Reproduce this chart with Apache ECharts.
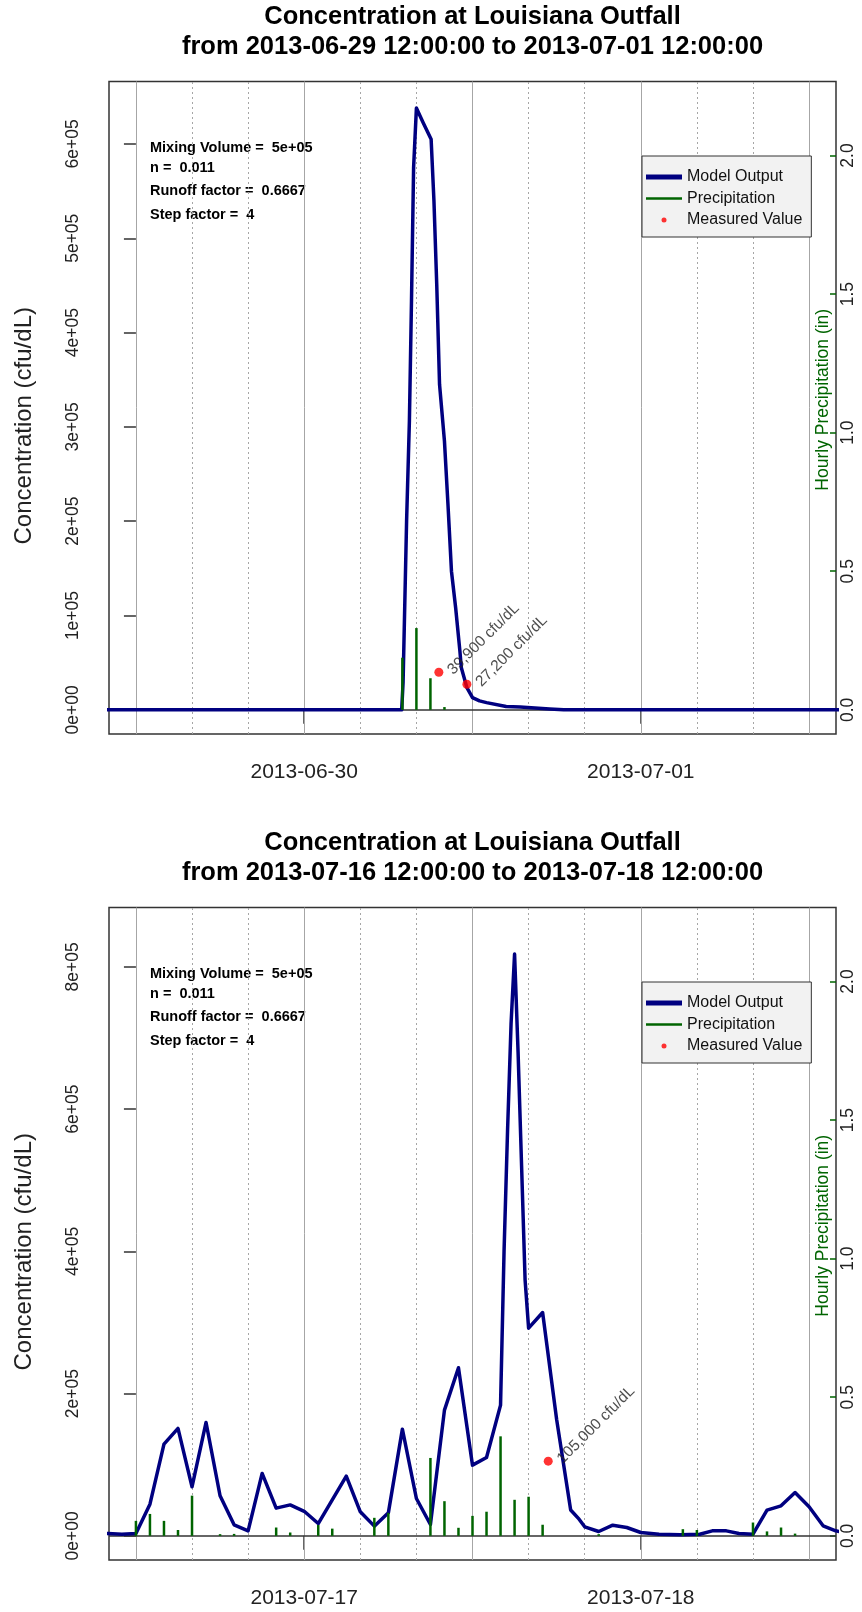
<!DOCTYPE html>
<html lang="en">
<head>
<meta charset="UTF-8">
<title>Concentration at Louisiana Outfall</title>
<style>
  html, body { margin: 0; padding: 0; background: #fff; }
  #main { width: 862px; height: 1612px; }
</style>
</head>
<body>
<div id="main"></div>
<script src="https://cdn.jsdelivr.net/npm/echarts@6/dist/echarts.min.js"></script>
<script>
// hours are counted from 12:00 on the first day of each window

// --- panel 1: 2013-06-29 12:00 to 2013-07-01 12:00
var modelHours1 = [-3, 18.95, 19.05, 19.3, 19.5, 19.65, 19.8, 20.0, 20.5, 21.05, 21.25, 21.45, 21.65, 22.0, 22.25, 22.5, 22.8, 23.1, 23.2, 23.6, 24.0, 24.5, 25.0, 26.4, 27.4, 29.5, 30.5, 53];
var modelConc1  = [0, 0, 29000, 200000, 306000, 434000, 575000, 638000, 622000, 605000, 540000, 451000, 345000, 285000, 218000, 147000, 108000, 62600, 45000, 23600, 13000, 9500, 7700, 3500, 3000, 1000, 0, 0];
var rainHours1  = [19, 20, 21, 22];
var rainInches1 = [0.188, 0.295, 0.114, 0.01];
var measHours1  = [21.6, 23.6];
var measConc1   = [39900, 27200];
var measText1   = ['39,900 cfu/dL', '27,200 cfu/dL'];
var dayLabels1  = ['2013-06-30', '2013-07-01'];
var concTicks1  = [0, 100000, 200000, 300000, 400000, 500000, 600000];

// --- panel 2: 2013-07-16 12:00 to 2013-07-18 12:00
var modelHours2 = [-2.5, -2, -1, 0, 1, 2, 3, 4, 5, 6, 7, 8, 9, 10, 11, 12, 13, 15, 16, 17, 18, 19, 20, 21, 22, 23, 24, 25, 26, 26.25, 26.5, 26.75, 27, 27.25, 27.5, 27.75, 28, 29, 30, 31, 31.6, 32, 33, 34, 35, 36, 37.3, 38.8, 40.2, 41.1, 42.1, 43, 44, 45, 46, 47, 48, 49, 49.9, 51];
var modelConc2  = [4000, 3300, 2300, 3300, 44500, 128900, 151000, 68900, 159400, 56300, 15500, 7000, 87700, 38900, 43500, 34500, 17300, 83900, 33800, 13600, 32300, 150000, 52500, 15900, 176700, 236300, 99400, 110200, 183800, 400000, 570000, 720000, 818000, 680000, 520000, 360000, 292000, 314000, 163700, 36300, 23400, 12700, 6100, 15000, 11700, 4700, 2300, 1400, 2300, 7000, 7000, 3300, 2300, 36100, 42200, 60900, 40800, 14100, 7000, 3000];
var rainHours2  = [0, 1, 2, 3, 4, 6, 7, 10, 11, 13, 14, 17, 18, 21, 22, 23, 24, 25, 26, 27, 28, 29, 33, 39, 40, 44, 45, 46, 47];
var rainInches2 = [0.054, 0.079, 0.054, 0.021, 0.145, 0.006, 0.007, 0.030, 0.012, 0.039, 0.026, 0.065, 0.083, 0.281, 0.125, 0.029, 0.072, 0.087, 0.359, 0.130, 0.141, 0.040, 0.006, 0.024, 0.021, 0.048, 0.016, 0.030, 0.008];
var measHours2  = [29.4];
var measConc2   = [105000];
var measText2   = ['105,000 cfu/dL'];
var dayLabels2  = ['2013-07-17', '2013-07-18'];
var concTicks2  = [0, 200000, 400000, 600000, 800000];

// --- shared
var dayTickHours    = [12, 36];
var solidGridHours  = [0, 12, 24, 36, 48];
var dottedGridHours = [4, 8, 16, 20, 28, 32, 40, 44];
var rainTicks       = [0, 0.5, 1, 1.5, 2];
var titleLines1 = ['Concentration at Louisiana Outfall', 'from 2013-06-29 12:00:00 to 2013-07-01 12:00:00'];
var titleLines2 = ['Concentration at Louisiana Outfall', 'from 2013-07-16 12:00:00 to 2013-07-18 12:00:00'];
var paramLines  = ['Mixing Volume =  5e+05', 'n =  0.011', 'Runoff factor =  0.6667', 'Step factor =  4'];

var FONT = '"Liberation Sans", Arial, sans-serif';
var NAVY = '#000080', GREEN = '#006400';
var plotLeft = 109, plotRight = 836, plotHeight = 652.5;
var plotCenterX = (plotLeft + plotRight) / 2;

var panels = [
    {top: 81.5, concMin: -25600, concMax: 666200, concTicks: concTicks1, days: dayLabels1, titleLines: titleLines1,
     mh: modelHours1, mc: modelConc1, rh: rainHours1, ri: rainInches1, sh: measHours1, sc: measConc1, st: measText1},
    {top: 907.5, concMin: -34000, concMax: 883500, concTicks: concTicks2, days: dayLabels2, titleLines: titleLines2,
     mh: modelHours2, mc: modelConc2, rh: rainHours2, ri: rainInches2, sh: measHours2, sc: measConc2, st: measText2}
];

function zip(a, b) {
    return a.map(function (v, i) { return [v, b[i]]; });
}

// R style exponent labels: 0e+00, 2e+05 ...
function rExp(v) {
    if (v === 0) return '0e+00';
    var e = Math.floor(Math.log10(v) + 1e-9);
    var m = Math.round(v / Math.pow(10, e));
    return m + 'e+' + (e < 10 ? '0' : '') + e;
}

var myChart = echarts.init(document.getElementById('main'), null, {renderer: 'canvas'});

var grids = [], xAxes = [], yAxes = [], series = [], legends = [], graphics = [];

panels.forEach(function (pn, p) {
    var off = pn.top - panels[0].top;

    grids.push({
        left: plotLeft, width: plotRight - plotLeft, top: pn.top, height: plotHeight,
        show: true, borderColor: '#333', borderWidth: 1.5, backgroundColor: 'transparent'
    });

    xAxes.push({
        type: 'value', gridIndex: p, min: -1.92, max: 49.92,
        axisLine: {show: false},
        axisTick: {show: true, customValues: dayTickHours, length: 14, lineStyle: {color: '#333', width: 1.5}},
        axisLabel: {
            customValues: dayTickHours, margin: 28, fontSize: 21, color: '#222', fontFamily: FONT,
            formatter: function (v) { return pn.days[dayTickHours.indexOf(v)]; }
        },
        splitLine: {show: false}
    });

    yAxes.push({
        type: 'value', gridIndex: p, position: 'left', min: pn.concMin, max: pn.concMax,
        axisLine: {show: false},
        axisTick: {show: true, customValues: pn.concTicks, length: 12, lineStyle: {color: '#333', width: 1.5}},
        axisLabel: {customValues: pn.concTicks, formatter: rExp, rotate: 90, margin: 27,
                    fontSize: 17.5, color: '#222', fontFamily: FONT},
        splitLine: {show: false}
    });
    yAxes.push({
        type: 'value', gridIndex: p, position: 'right', min: -0.0872, max: 2.267,
        axisLine: {show: false},
        axisTick: {show: true, inside: true, customValues: rainTicks, length: 6, lineStyle: {color: GREEN, width: 1.5}},
        axisLabel: {customValues: rainTicks, formatter: function (v) { return v.toFixed(1); },
                    rotate: 90, margin: 3, fontSize: 17.5, color: '#222', fontFamily: FONT},
        splitLine: {show: false}
    });

    // grid lines every 12 h (solid) and 4 h (dotted), plus the zero line
    var gridMarks = [];
    solidGridHours.forEach(function (h) {
        gridMarks.push({xAxis: h, lineStyle: {color: '#a6a6a6', width: 1, type: 'solid'}});
    });
    dottedGridHours.forEach(function (h) {
        gridMarks.push({xAxis: h, lineStyle: {color: '#a6a6a6', width: 1, type: [2, 3]}});
    });
    gridMarks.push({yAxis: 0, lineStyle: {color: '#333', width: 1.5, type: 'solid'}});

    series.push({
        name: 'Model Output', type: 'line', xAxisIndex: p, yAxisIndex: 2 * p,
        data: zip(pn.mh, pn.mc), showSymbol: false, symbol: 'none', z: 3,
        itemStyle: {color: NAVY},
        lineStyle: {color: NAVY, width: 3.5, join: 'round'},
        markLine: {silent: true, z: 1, symbol: ['none', 'none'], label: {show: false},
                   animation: false, data: gridMarks}
    });
    series.push({
        name: 'Precipitation', type: 'bar', xAxisIndex: p, yAxisIndex: 2 * p + 1,
        data: zip(pn.rh, pn.ri), barWidth: 2.5, z: 4,
        itemStyle: {color: GREEN}
    });
    series.push({
        name: 'Measured Value', type: 'scatter', xAxisIndex: p, yAxisIndex: 2 * p,
        data: zip(pn.sh, pn.sc), symbol: 'circle', symbolSize: 9, z: 5,
        itemStyle: {color: '#ff0000'},
        label: {
            show: true, position: 'right', distance: 7, rotate: 45,
            fontSize: 15.5, color: '#222', fontFamily: FONT,
            formatter: function (d) { return pn.st[d.dataIndex]; }
        }
    });

    legends.push({
        left: 642, top: 156 + off, orient: 'vertical',
        itemWidth: 36, itemHeight: 14, itemGap: 5.5,
        padding: [13, 9, 9, 4],
        backgroundColor: '#f2f2f2', borderColor: '#333', borderWidth: 1,
        selectedMode: false,
        textStyle: {fontSize: 16, color: '#111', fontFamily: FONT},
        data: [
            {name: 'Model Output', icon: 'path://M0,0H36V5H0Z', itemStyle: {color: NAVY}},
            {name: 'Precipitation', icon: 'path://M0,0H36V2.5H0Z', itemStyle: {color: GREEN}},
            {name: 'Measured Value', icon: 'path://M0,0M36,14M15.5,7a2.5,2.5 0 1,0 5,0a2.5,2.5 0 1,0 -5,0Z',
             itemStyle: {color: '#ff0000'}}
        ]
    });

    // titles
    graphics.push({
        type: 'text', x: plotCenterX, y: 2 + off, silent: true,
        style: {text: pn.titleLines.join('\n'), fill: '#000', fontSize: 25.5, fontWeight: 'bold',
                fontFamily: FONT, lineHeight: 30, textAlign: 'center', textVerticalAlign: 'top'}
    });
    // model parameters
    var paramY = [148, 168, 191, 215];
    paramLines.forEach(function (s, i) {
        graphics.push({
            type: 'text', x: 150, y: paramY[i] + off, silent: true,
            style: {text: s, fill: '#000', fontSize: 14.5, fontWeight: 'bold', fontFamily: FONT,
                    textAlign: 'left', textVerticalAlign: 'middle'}
        });
    });
    // axis titles
    var midY = pn.top + plotHeight / 2;
    graphics.push({
        type: 'text', x: 24, y: midY + 18, rotation: Math.PI / 2, silent: true,
        style: {text: 'Concentration (cfu/dL)', fill: '#222', fontSize: 24, fontFamily: FONT,
                textAlign: 'center', textVerticalAlign: 'middle'}
    });
    graphics.push({
        type: 'text', x: 823, y: midY - 8, rotation: Math.PI / 2, silent: true,
        style: {text: 'Hourly Precipitation (in)', fill: GREEN, fontSize: 17.5, fontFamily: FONT,
                textAlign: 'center', textVerticalAlign: 'middle'}
    });
});

var option = {
    backgroundColor: '#fff',
    animation: false,
    textStyle: {fontFamily: FONT},
    grid: grids,
    xAxis: xAxes,
    yAxis: yAxes,
    legend: legends,
    graphic: graphics,
    series: series
};

myChart.setOption(option);
</script>
</body>
</html>
